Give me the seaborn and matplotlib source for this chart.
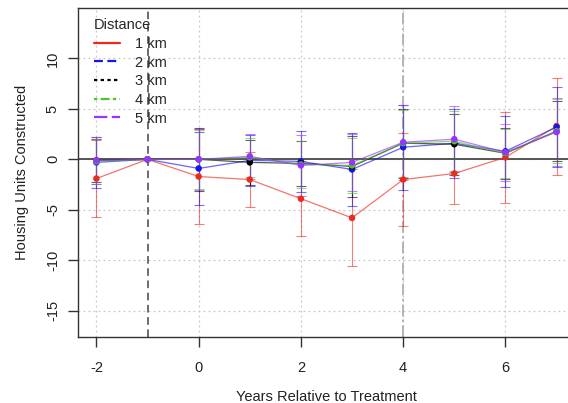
import matplotlib
matplotlib.use("Agg")
import matplotlib.pyplot as plt
from matplotlib.lines import Line2D
import pandas as pd
import seaborn as sns

years = [-2, -1, 0, 1, 2, 3, 4, 5, 6, 7]
distances = ["1 km", "2 km", "3 km", "4 km", "5 km"]

est_1km = [-1.9, 0.0, -1.7, -2.0, -3.9, -5.8, -2.0, -1.4, 0.2, 3.3]
ci_1km = [3.8, 0.0, 4.7, 2.7, 3.7, 4.8, 4.6, 3.0, 4.5, 4.8]
est_2km = [-0.3, 0.0, -0.9, -0.1, -0.2, -1.0, 1.2, 1.6, 0.8, 3.2]
ci_2km = [2.5, 0.0, 3.6, 2.5, 3.0, 3.6, 4.2, 3.4, 3.5, 4.0]
est_3km = [-0.1, 0.0, 0.0, -0.3, -0.4, -0.7, 1.6, 1.5, 0.6, 2.8]
ci_3km = [2.1, 0.0, 3.1, 2.2, 2.2, 3.0, 3.4, 3.0, 2.5, 3.0]
est_4km = [-0.2, 0.0, 0.0, 0.2, -0.5, -0.6, 1.6, 1.8, 0.6, 2.8]
ci_4km = [2.2, 0.0, 2.9, 1.9, 2.3, 2.7, 3.3, 3.0, 2.4, 3.2]
est_5km = [-0.1, 0.0, 0.0, 0.3, -0.6, -0.3, 1.7, 2.0, 0.7, 2.7]
ci_5km = [2.3, 0.0, 3.0, 2.2, 3.0, 2.8, 3.7, 3.3, 2.8, 3.4]

colors = ["#EE2A1E", "#1515F0", "#000000", "#4CC42A", "#9933FF"]
legend_styles = ["-", (0, (4, 2)), (0, (1.5, 1.5)), (0, (1.5, 1.5, 4, 1.5)), (0, (6, 2))]

frames = []
for d, est, ci in zip(distances,
                      [est_1km, est_2km, est_3km, est_4km, est_5km],
                      [ci_1km, ci_2km, ci_3km, ci_4km, ci_5km]):
    frames.append(pd.DataFrame({"year": years, "estimate": est, "ci": ci, "Distance": d}))
df = pd.concat(frames, ignore_index=True)

sns.set_style("ticks")
plt.rcParams["font.family"] = ["Liberation Sans", "DejaVu Sans"]
plt.rcParams["axes.unicode_minus"] = False

fig = plt.figure(figsize=(5.68, 4.03), dpi=100)
ax = fig.add_axes([0.1373, 0.1638, 0.875, 0.8164])

# dotted grid
for gx in [-2, 0, 2, 4, 6]:
    ax.axvline(gx, color="#c8c8c8", ls=(0, (1.5, 2.5)), lw=0.9, zorder=0)
for gy in [-15, -10, -5, 0, 5, 10]:
    ax.axhline(gy, color="#c8c8c8", ls=(0, (1.5, 2.5)), lw=0.9, zorder=0)

palette = dict(zip(distances, colors))
for d in distances:
    sub = df[(df["Distance"] == d) & (df["ci"] > 0)]
    ax.errorbar(sub["year"], sub["estimate"], yerr=sub["ci"], fmt="none",
                ecolor=palette[d], elinewidth=0.8, capsize=3.5, capthick=0.8,
                alpha=0.6, zorder=2)

sns.lineplot(data=df, x="year", y="estimate", hue="Distance", palette=palette,
             lw=0.9, alpha=0.65, legend=False, ax=ax, zorder=3)
sns.scatterplot(data=df, x="year", y="estimate", hue="Distance", palette=palette,
                s=22, edgecolor="none", legend=False, ax=ax, zorder=4)

ax.axhline(0, color="#555555", lw=1.4, zorder=2.5)
ax.axvline(-1, color="#444444", ls=(0, (5, 3)), lw=1.1, zorder=2.5)
ax.axvline(4, color="#aaaaaa", ls=(0, (7, 2, 1.5, 2)), lw=1.2, zorder=1)

ax.set_xlim(-2.36, 7.36)
ax.set_ylim(-17.6, 15.0)
ax.set_xticks([-2, 0, 2, 4, 6])
ax.set_yticks([-15, -10, -5, 0, 5, 10])
ax.set_yticklabels(["-15", "-10", "-5", "0", "5", "10"], rotation=90, va="center")
ax.tick_params(axis="both", direction="out", length=7, width=1, labelsize=10.5,
               color="#333333", labelcolor="#222222")
ax.tick_params(axis="x", pad=10)
ax.tick_params(axis="y", pad=6)
for side in ["top", "right", "left", "bottom"]:
    ax.spines[side].set_visible(True)
    ax.spines[side].set_color("#333333")
    ax.spines[side].set_linewidth(1)

ax.set_xlabel("Years Relative to Treatment", fontsize=10.5, labelpad=11, color="#222222")
ax.set_ylabel("Housing Units Constructed", fontsize=10.5, labelpad=12, color="#222222")

handles = [Line2D([0], [0], color=c, ls=s, lw=1.6) for c, s in zip(colors, legend_styles)]
leg = ax.legend(handles, distances, title="Distance", loc="upper left",
                bbox_to_anchor=(0.012, 1.0), frameon=False, fontsize=10.5,
                title_fontsize=10.5, handlelength=1.8, handletextpad=1.0,
                labelspacing=0.32, borderaxespad=0.3)
leg._legend_box.align = "left"

fig.savefig("out.png", dpi=100)
